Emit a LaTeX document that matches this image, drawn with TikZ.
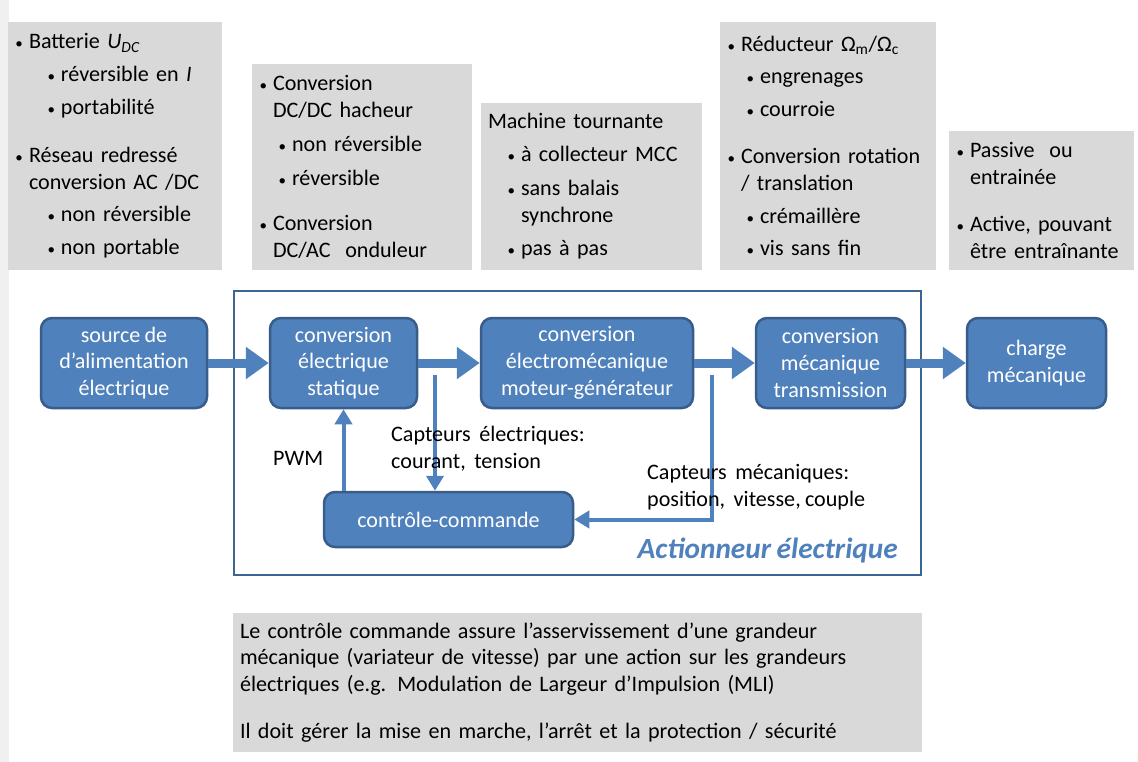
\documentclass[tikz,border=0pt]{standalone}
\usepackage{fontspec}
\setmainfont[WordSpace = 0.85]{Carlito}
\usetikzlibrary{arrows.meta}

\definecolor{grisfond}{HTML}{D9D9D9}
\definecolor{bleubloc}{HTML}{4F81BD}
\definecolor{bleubord}{HTML}{385D8A}
\definecolor{bleucadre}{HTML}{3A6595}
\definecolor{bordpage}{HTML}{F0F0F0}

\newcommand{\point}{\hspace*{0.5pt}{\fontsize{15}{15}\selectfont •}}
\newcommand{\puce}{\makebox[14pt][l]{\point}}
\newcommand{\souspuce}[1][19pt]{\hspace*{#1}\makebox[14pt][l]{\point}}
\newcommand{\suite}[1][0pt]{\hspace*{\dimexpr #1+14pt\relax}}
\newcommand{\taille}{\fontsize{22.1}{26.8}\selectfont}

\begin{document}
\begin{tikzpicture}[x = 1pt, y = -1pt,
		encadre/.style = {fill = grisfond, inner xsep = 7pt, inner ysep = 0pt, align = left, font = \taille},
		bloc/.style = {fill = bleubloc, draw = bleubord, line width = 2.5pt, rounded corners = 11pt, text = white, align = center, font = \taille},
		flux/.style = {bleubloc, line width = 9pt, -{Triangle[length = 23pt, width = 31pt]}},
		mesure/.style = {bleubloc, line width = 4pt, -{Triangle[length = 15pt, width = 17pt]}},
		legende/.style = {align = left, inner sep = 0pt, font = \taille}]
					\fill [white] (0, 0) rectangle (1138, 762);
					\useasboundingbox (0, 0) rectangle (1138, 762);
					\fill [bordpage] (0, 0) rectangle (9, 762);

					\node [encadre, text width = 200pt, minimum width = 214pt, minimum height = 248pt] (batterie) at (115, 146) {\puce Batterie \textit{U}\textsubscript{\textit{DC}}\\[6pt]
						\souspuce[32pt]réversible en \textit{I}\\[6pt]
						\souspuce[32pt]portabilité\\[21pt]
						\puce Réseau redressé\\
						\suite conversion AC /DC\\[6pt]
						\souspuce[32pt]non réversible\\[6pt]
						\souspuce[32pt]non portable};
					\node [encadre, text width = 206pt, minimum width = 220pt, minimum height = 206pt] (hacheur) at (362, 167) {\puce Conversion\\
						\suite DC/DC hacheur\\[7pt]
						\souspuce non réversible\\[7pt]
						\souspuce réversible\\[19pt]
						\puce Conversion\\
						\suite DC/AC~ onduleur};
					\node [encadre, text width = 207pt, minimum width = 221pt, minimum height = 167pt] (machine) at (591.5, 186.5) {Machine tournante\\[6pt]
						\souspuce à collecteur MCC\\[7pt]
						\souspuce sans balais\\
						\suite[19pt]synchrone\\[7pt]
						\souspuce pas à pas};
					\node [encadre, text width = 202pt, minimum width = 216pt, minimum height = 248pt] (reducteur) at (828, 146) {\puce Réducteur Ω\textsubscript{m}/Ω\textsubscript{c}\\[6pt]
						\souspuce engrenages\\[6pt]
						\souspuce courroie\\[20pt]
						\puce Conversion rotation\\
						\suite / translation\\[6pt]
						\souspuce crémaillère\\[6pt]
						\souspuce vis sans fin};
					\node [encadre, text width = 171pt, minimum width = 185pt, minimum height = 139pt] (passive) at (1041.5, 200.5) {\puce Passive~ ou\\
						\suite entrainée\\[20pt]
						\puce Active, pouvant\\
						\suite être entraînante};
					\node [encadre, text width = 675pt, minimum width = 689pt, minimum height = 139pt] (resume) at (577.5, 682.5) {Le contrôle commande assure l’asservissement d’une grandeur\\
						mécanique (variateur de vitesse) par une action sur les grandeurs\\
						électriques (e.g. Modulation de Largeur d’Impulsion (MLI)\\[20pt]
						Il doit gérer la mise en marche, l’arrêt et la protection / sécurité};

					\draw [bleucadre, line width = 2.5pt] (234, 291) rectangle (921, 575);

					\node [bloc, minimum width = 166pt, minimum height = 90pt] (source) at (124, 363) {source de\\d’alimentation\\électrique};
					\node [bloc, minimum width = 147pt, minimum height = 90pt] (statique) at (343.5, 363) {conversion\\électrique\\statique};
					\node [bloc, minimum width = 212pt, minimum height = 90pt] (electromeca) at (587, 363) {conversion\\électromécanique\\moteur-générateur};
					\node [bloc, minimum width = 149pt, minimum height = 90pt] (mecanique) at (830.5, 363) {conversion\\mécanique\\transmission};
					\node [bloc, minimum width = 139pt, minimum height = 90pt] (charge) at (1036.5, 363) {charge\\mécanique};
					\node [bloc, minimum width = 249pt, minimum height = 55pt] (controle) at (448.5, 519.5) {contrôle-commande};

					\coordinate (prise elec) at (435, 375);
					\coordinate (prise meca) at (712, 375);

					\draw [flux] (source) -- (statique);
					\draw [flux] (statique) -- (electromeca);
					\draw [flux] (electromeca) -- (mecanique);
					\draw [flux] (mecanique) -- (charge);

					\draw [mesure] (controle.north -| statique.south) -- (statique.south);
					\draw [mesure] (prise elec) -- (prise elec |- controle.north);
					\draw [mesure] (prise meca) |- (controle.east);

					\node [legende, anchor = west] (pwm) at (273, 458) {PWM};
					\node [legende, anchor = west] (capteurs elec) at (391, 449) {Capteurs~ électriques:\\courant,~ tension};
					\node [legende, anchor = west] (capteurs meca) at (647, 487.5) {Capteurs~ mécaniques:\\position,~ vitesse, couple};
					\node [anchor = east, inner sep = 0pt, text = bleubloc, font = \fontsize{29.3}{34}\selectfont\bfseries\itshape] (actionneur) at (898, 551) {Actionneur électrique};
				\end{tikzpicture}
\end{document}
